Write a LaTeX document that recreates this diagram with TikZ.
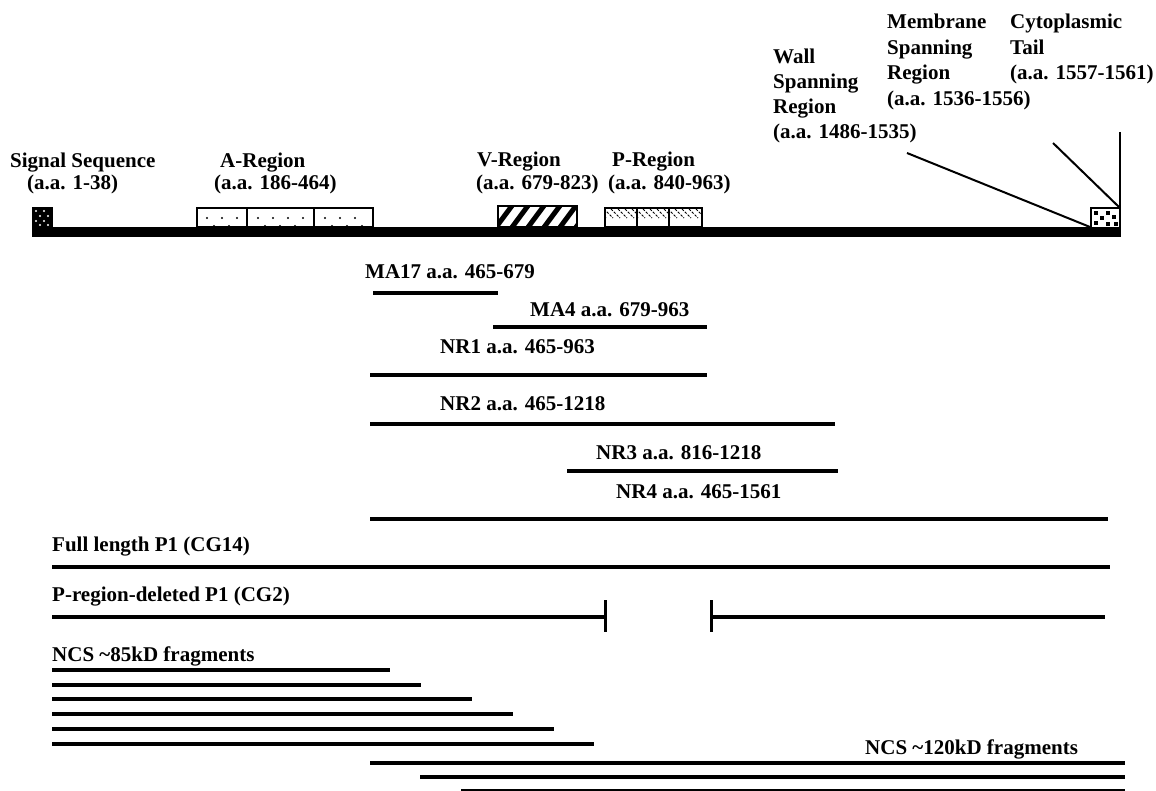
\documentclass[tikz,border=0pt]{standalone}
\usepackage{fontspec}
\setmainfont{Liberation Serif}
\begin{document}
\begin{tikzpicture}[x=1pt,y=-1pt,
  lbl/.style={anchor=base west, inner sep=0pt, font=\fontsize{21}{25}\selectfont\bfseries},
  frag/.style={line width=4pt},
  thinfrag/.style={line width=2pt},
  boxline/.style={draw=black, line width=1.5pt, fill=white},
  lead/.style={line width=2pt}]
\useasboundingbox[fill=white] (0,0) rectangle (1156,791);

% ---------- top labels ----------
\node[lbl] (sig1) at (10,168) {Signal Sequence};
\node[lbl] (sig2) at (27,190) {(a.a. 1-38)};
\node[lbl] (a1) at (220,168) {A-Region};
\node[lbl] (a2) at (214,190) {(a.a. 186-464)};
\node[lbl] (v1) at (477,167) {V-Region};
\node[lbl] (v2) at (476,190) {(a.a. 679-823)};
\node[lbl] (p1) at (612,167) {P-Region};
\node[lbl] (p2) at (608,190) {(a.a. 840-963)};

\node[lbl] (w1) at (773,64) {Wall};
\node[lbl] (w2) at (773,89) {Spanning};
\node[lbl] (w3) at (773,114) {Region};
\node[lbl] (w4) at (773,139) {(a.a. 1486-1535)};
\node[lbl] (m1) at (887,29) {Membrane};
\node[lbl] (m2) at (887,55) {Spanning};
\node[lbl] (m3) at (887,80) {Region};
\node[lbl] (m4) at (887,106) {(a.a. 1536-1556)};
\node[lbl] (c1) at (1010,29) {Cytoplasmic};
\node[lbl] (c2) at (1010,55) {Tail};
\node[lbl] (c3) at (1010,80) {(a.a. 1557-1561)};

% ---------- main bar ----------
\fill (32,227) rectangle (1121,237);

% signal box
\fill (32,207) rectangle (53,228);
\foreach \x/\y in {36/211,44/211,40/216,48/216,36/221,44/221,40/225,48/225}
  \fill[white] (\x,\y) circle (1.1pt);

% A-region boxes
\foreach \a/\b in {197/247,247/314,314/373}
  \draw[boxline] (\a,208) rectangle (\b,227);
\foreach \x in {207,222,237,258,273,288,303,325,340,355}
  \fill (\x,218) circle (1.2pt);
\foreach \x in {214,229,265,280,295,332,347,362}
  \fill (\x,226) circle (1.1pt);

% V-region box
\draw[boxline] (498,206) rectangle (577,227);
\begin{scope}
  \clip (498,206) rectangle (577,227);
  \foreach \x in {494,510,526,542,558,574}
    \draw[line width=5pt] (\x,230) -- (\x+20,203);
\end{scope}
\draw[line width=1.5pt] (498,206) rectangle (577,227);

% P-region boxes
\foreach \a/\b in {605/637,637/669,669/702}{
  \draw[boxline] (\a,208) rectangle (\b,227);
  \begin{scope}
    \clip (\a,208) rectangle (\b,219);
    \foreach \k in {-8,-1,...,34}
      \draw[line width=1pt, dash pattern=on 2.5pt off 1.5pt] (\a+\k,209) -- (\a+\k+9,218);
  \end{scope}
}

% tail box
\draw[fill=white, line width=1.5pt] (1091,208) rectangle (1120,228);
\foreach \x/\y in {1094/211,1106/211,1100/216,1112/215,1094/221,1106/222,1114/222}
  \fill (\x,\y) rectangle (\x+4,\y+4);

% leader lines
\coordinate (wA) at (907,153);
\coordinate (wB) at (1090,227);
\coordinate (mA) at (1053,143);
\coordinate (mB) at (1120,208);
\coordinate (tA) at (1120,132);
\draw[lead] (wA) -- (wB);
\draw[lead] (mA) -- (mB);
\draw[lead] (tA) -- (mB);

% ---------- fragments ----------
\node[lbl] (ma17) at (365,279) {MA17 a.a. 465-679};
\draw[frag] (373,293) -- (498,293);
\node[lbl] (ma4) at (530,317) {MA4 a.a. 679-963};
\draw[frag] (493,327) -- (707,327);
\node[lbl] (nr1) at (440,354) {NR1 a.a. 465-963};
\draw[frag] (370,375) -- (707,375);
\node[lbl] (nr2) at (440,410) {NR2 a.a. 465-1218};
\draw[frag] (370,424) -- (835,424);
\node[lbl] (nr3) at (596,459) {NR3 a.a. 816-1218};
\draw[frag] (567,471) -- (838,471);
\node[lbl] (nr4) at (616,498) {NR4 a.a. 465-1561};
\draw[frag] (370,519) -- (1108,519);

\node[lbl] (full) at (52,551) {Full length P1 (CG14)};
\draw[frag] (52,567) -- (1110,567);
\node[lbl] (pdel) at (52,601) {P-region-deleted P1 (CG2)};
\draw[frag] (52,617) -- (605,617);
\draw[line width=3pt] (605,600) -- (605,632);
\draw[line width=3pt] (711,600) -- (711,632);
\draw[frag] (711,617) -- (1105,617);

\node[lbl] (n85) at (52,661) {NCS \textasciitilde 85kD fragments};
\foreach \y/\e in {670/390,685/421,699/472,714/513,729/554,744/594}
  \draw[frag] (52,\y) -- (\e,\y);

\node[lbl] (n120) at (865,754) {NCS \textasciitilde 120kD fragments};
\draw[frag] (370,763) -- (1125,763);
\draw[frag] (420,777) -- (1125,777);
\draw[thinfrag] (461,790) -- (1125,790);
\end{tikzpicture}
\end{document}
